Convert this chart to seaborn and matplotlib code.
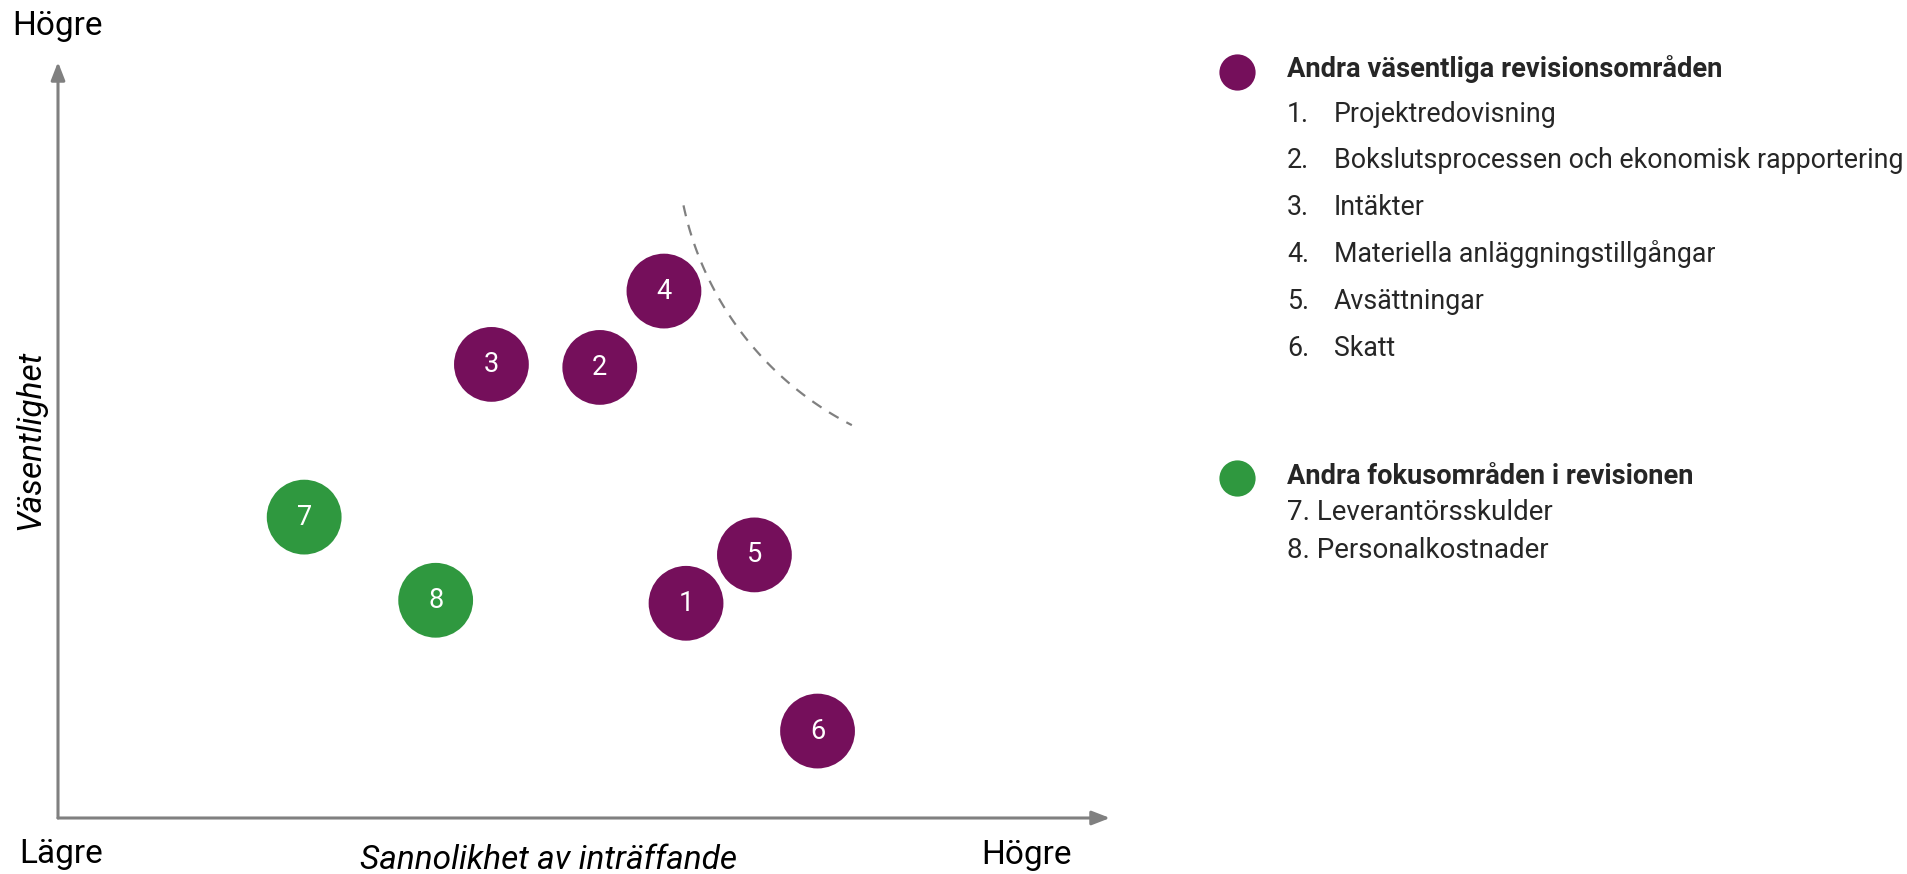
import numpy as np
import pandas as pd
import matplotlib
matplotlib.use("Agg")
import matplotlib.pyplot as plt
import seaborn as sns

# ---- data ----
ids = ["1", "2", "3", "4", "5", "6", "7", "8"]
likelihood = [59.7, 51.5, 41.2, 57.6, 66.2, 72.2, 23.4, 35.9]
materiality = [28.4, 59.6, 60.0, 69.7, 34.8, 11.5, 39.8, 28.8]
groups = ["main", "main", "main", "main", "main", "main", "focus", "focus"]

group1_title = "Andra väsentliga revisionsområden"
group1_items = ["Projektredovisning", "Bokslutsprocessen och ekonomisk rapportering",
                "Intäkter", "Materiella anläggningstillgångar", "Avsättningar", "Skatt"]
group2_title = "Andra fokusområden i revisionen"
group2_items = ["Leverantörsskulder", "Personalkostnader"]

PURPLE = "#750F5B"
GREEN = "#2F983F"
GRAY = "#808080"

df = pd.DataFrame({"id": ids, "x": likelihood, "y": materiality, "g": groups})

sns.set_theme(style="white")
plt.rcParams["font.family"] = ["Roboto", "DejaVu Sans"]

W, H = 1908, 874
fig = plt.figure(figsize=(W / 100, H / 100), dpi=100)
fig.patch.set_facecolor("white")

# main axes: pixel 58..1110 horizontally, 62..818 vertically
ax = fig.add_axes([58 / W, (H - 818) / H, (1110 - 58) / W, (818 - 62) / H])
ax.set_xlim(0, 100)
ax.set_ylim(0, 100)
ax.axis("off")

# axes arrows
arrow_kw = dict(arrowstyle="-|>,head_length=0.9,head_width=0.35", color=GRAY, lw=2.2,
                shrinkA=0, shrinkB=0)
ax.annotate("", xy=(100, 0), xytext=(0, 0), arrowprops=arrow_kw, annotation_clip=False)
ax.annotate("", xy=(0, 100), xytext=(0, 0), arrowprops=arrow_kw, annotation_clip=False)

# dashed arc
arc_cx, arc_cy, arc_rx, arc_ry = 89.4, 89.8, 30.6, 42.5
t = np.radians(np.linspace(191.9, 242.9, 100))
ax.plot(arc_cx + arc_rx * np.cos(t), arc_cy + arc_ry * np.sin(t),
        color=GRAY, lw=1.6, dashes=(5, 4), clip_on=False)

# bubbles
sns.scatterplot(data=df, x="x", y="y", hue="g", palette={"main": PURPLE, "focus": GREEN},
                s=2900, linewidth=0, legend=False, ax=ax, clip_on=False, zorder=3)
for _, r in df.iterrows():
    ax.text(r["x"], r["y"], r["id"], color="white", fontsize=19.5,
            ha="center", va="center", zorder=4)

# axis texts
fig.text(12 / W, 1 - 26 / H, "Högre", fontsize=24, ha="left", va="center", color="black")
fig.text(19 / W, 1 - 854 / H, "Lägre", fontsize=24, ha="left", va="center", color="black")
fig.text(1027 / W, 1 - 855 / H, "Högre", fontsize=24, ha="center", va="center", color="black")
fig.text(549 / W, 1 - 860 / H, "Sannolikhet av inträffande", fontsize=24, style="italic",
         ha="center", va="center", color="black")
fig.text(30 / W, 1 - 440 / H, "Väsentlighet", fontsize=24, style="italic", rotation=90,
         ha="center", va="center", color="black")

# legend overlay
lax = fig.add_axes([0, 0, 1, 1])
lax.set_xlim(0, W)
lax.set_ylim(H, 0)
lax.axis("off")
lax.scatter([1237], [72], s=680, color=PURPLE, linewidth=0)
lax.scatter([1237], [478], s=680, color=GREEN, linewidth=0)

lx, ltx = 1287, 1334
lax.text(lx, 69, group1_title, fontsize=19.7, fontweight="bold", ha="left", va="center")
y0, dy = 114, 46.8
for i, item in enumerate(group1_items):
    yy = y0 + i * dy
    lax.text(lx, yy, f"{i + 1}.", fontsize=19.3, ha="left", va="center")
    lax.text(ltx, yy, item, fontsize=19.3, ha="left", va="center")

lax.text(lx, 477, group2_title, fontsize=19.6, fontweight="bold", ha="left", va="center")
for i, item in enumerate(group2_items):
    yy = 513 + i * 37
    lax.text(lx, yy, f"{i + 7}. {item}", fontsize=20, ha="left", va="center")

fig.savefig("out.png", dpi=100, facecolor="white")
